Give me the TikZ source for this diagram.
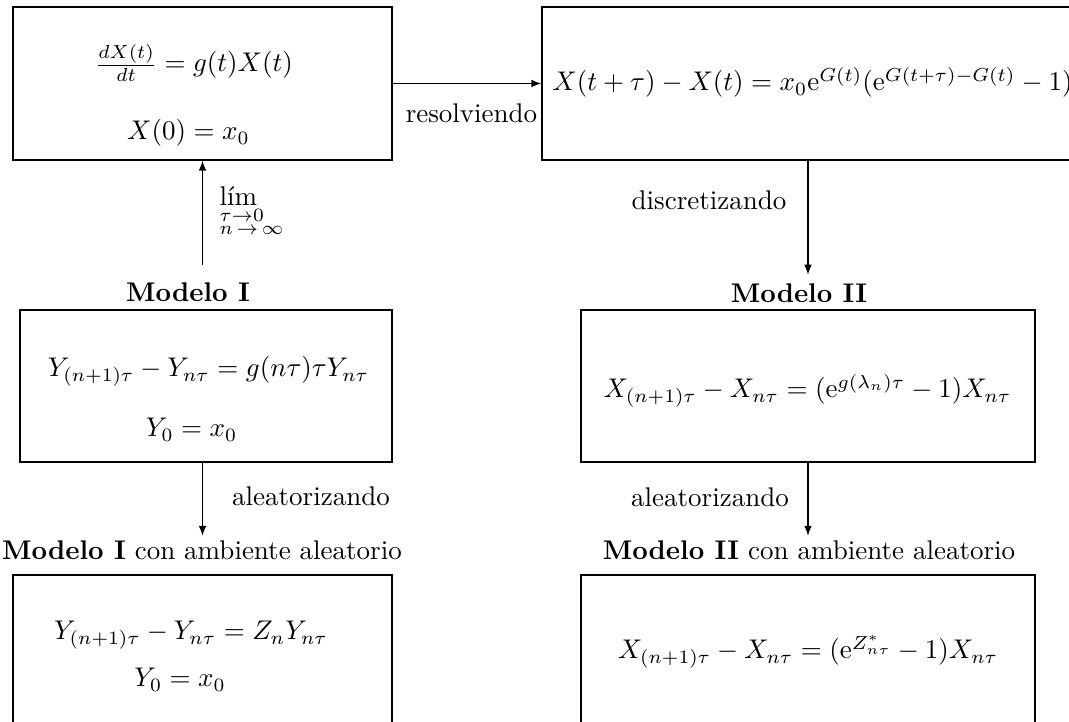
\documentclass[tikz,border=0pt]{standalone}
\usetikzlibrary{arrows.meta,fit}
\begin{document}
\begin{tikzpicture}[x=0.3704pt,y=-0.3704pt,
  frame/.style={draw,line width=0.45pt,inner sep=0pt},
  txt/.style={inner sep=0pt,anchor=base},
  hdr/.style={anchor=base,inner sep=3.33pt},
  hdrb/.style={anchor=base,inner sep=1.8pt},
  arr/.style={line width=0.45pt,-{Latex[length=3.7pt,width=2.8pt]}}]
\useasboundingbox (0,0) rectangle (1069,722);
\clip (0,0) rectangle (1069,722);
% boxes
\node[frame,fit={(13,7)(392,160)}] (A) {};
\node[frame,fit={(542,7)(1110,160)}] (B) {};
\node[frame,fit={(20,310)(392,462)}] (C) {};
\node[frame,fit={(581,310)(1035,462)}] (D) {};
\node[frame,fit={(13,575)(392,740)}] (E) {};
\node[frame,fit={(581,575)(1035,740)}] (F) {};
% box contents
\node[txt] (A1) at (194,72) {$\frac{dX(t)}{dt}=g(t)X(t)$};
\node[txt] (A2) at (188.5,140) {$X(0)=x_0$};
\node[txt] (B1) at (812.5,91) {$X(t+\tau)-X(t)=x_0\mathrm{e}^{G(t)}(\mathrm{e}^{G(t+\tau)-G(t)}-1)$};
\node[txt] (C1) at (208.5,377) {$Y_{(n+1)\tau}-Y_{n\tau}=g(n\tau)\tau Y_{n\tau}$};
\node[txt] (C2) at (191.5,437) {$Y_0=x_0$};
\node[txt] (D1) at (807.5,398) {$X_{(n+1)\tau}-X_{n\tau}=(\mathrm{e}^{g(\lambda_n)\tau}-1)X_{n\tau}$};
\node[txt] (E1) at (191,640) {$Y_{(n+1)\tau}-Y_{n\tau}=Z_nY_{n\tau}$};
\node[txt] (E2) at (180,687) {$Y_0=x_0$};
\node[txt] (F1) at (808,659) {$X_{(n+1)\tau}-X_{n\tau}=(\mathrm{e}^{Z^*_{n\tau}}-1)X_{n\tau}$};
% headers
\node[hdr] (H1) at (188,302) {\textbf{Modelo I}};
\node[hdr] (H2) at (799,303) {\textbf{Modelo II}};
\node[hdrb] (H3) at (202,560) {\textbf{Modelo I} con ambiente aleatorio};
\node[hdrb] (H4) at (809,560) {\textbf{Modelo II} con ambiente aleatorio};
% connector labels
\node[txt] (L1) at (471.5,123) {resolviendo};
\node[txt] (L2) at (709,210) {discretizando};
\node[txt] (L3) at (311,506) {aleatorizando};
\node[txt] (L4) at (710,507) {aleatorizando};
\node[inner sep=0pt,anchor=base west] (L5) at (219,206)
  {\begin{tabular}[t]{@{}l@{}}lím\\[-6.1pt]$\scriptstyle\tau\to0$\\[-7.2pt]$\scriptstyle n\,\to\,\infty$\end{tabular}};
% connectors
\coordinate (l0) at (202.5,265);
\draw[arr] (A.east) -- (B.west);
\draw[arr] (l0) -- (l0 |- A.south);
\draw[arr] (B.south -| D.north) -- (H2.north -| D.north);
\draw[arr] (C.south -| A.south) -- (H3.north -| A.south);
\draw[arr] (D.south) -- (H4.north -| D.south);
\end{tikzpicture}
\end{document}
